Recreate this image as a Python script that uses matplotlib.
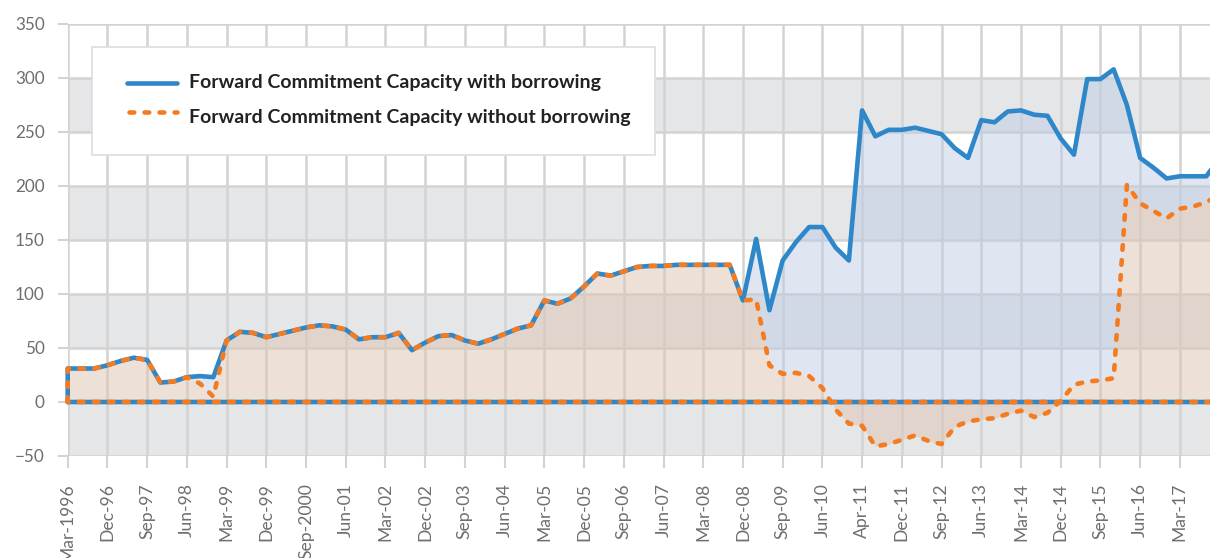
import matplotlib
matplotlib.use("Agg")
import matplotlib.pyplot as plt
import numpy as np
from matplotlib.patches import Rectangle
from matplotlib.lines import Line2D

# Quarterly series, Mar-1996 .. Dec-2017
with_borrowing = [
    31, 31, 31, 34, 38, 41, 39, 18, 19, 23,
    24, 23, 57, 65, 64, 60, 63, 66, 69, 71,
    70, 67, 58, 60, 60, 64, 48, 55, 61, 62,
    57, 54, 58, 63, 68, 71, 94, 91, 96, 107,
    119, 117, 121, 125, 126, 126, 127, 127, 127, 127,
    127, 94, 151, 85, 131, 148, 162, 162, 143, 131,
    270, 246, 252, 252, 254, 251, 248, 235, 226, 261,
    259, 269, 270, 266, 265, 244, 229, 299, 299, 308,
    275, 226, 217, 207, 209, 209, 209, 226,
]
without_borrowing = [
    31, 31, 31, 34, 38, 41, 39, 18, 19, 23,
    17, 5, 57, 65, 64, 60, 63, 66, 69, 71,
    70, 67, 58, 60, 60, 64, 48, 55, 61, 62,
    57, 54, 58, 63, 68, 71, 94, 91, 96, 107,
    119, 117, 121, 125, 126, 126, 127, 127, 127, 127,
    127, 94, 95, 34, 26, 27, 24, 13, -7, -20,
    -22, -41, -39, -35, -31, -36, -39, -23, -18, -16,
    -15, -11, -8, -14, -10, 1, 16, 19, 20, 22,
    201, 184, 177, 170, 179, 181, 185, 192,
]
tick_labels = [
    "Mar-1996", "Dec-96", "Sep-97", "Jun-98", "Mar-99", "Dec-99", "Sep-2000",
    "Jun-01", "Mar-02", "Dec-02", "Sep-03", "Jun-04", "Mar-05", "Dec-05",
    "Sep-06", "Jun-07", "Mar-08", "Dec-08", "Sep-09", "Jun-10", "Apr-11",
    "Dec-11", "Sep-12", "Jun-13", "Mar-14", "Dec-14", "Sep-15", "Jun-16",
    "Mar-17", "Dec-17",
]
series_names = [
    "Forward Commitment Capacity with borrowing",
    "Forward Commitment Capacity without borrowing",
]
y_ticks = [-50, 0, 50, 100, 150, 200, 250, 300, 350]

BLUE = "#2e87c9"
ORANGE = "#f47b20"
GRID = "#d3d3d3"
BAND = "#e5e6e8"
TICK_TXT = "#6e6e6e"
DASH = (1.03, 2.25)

W, H = 1210, 558
fig = plt.figure(figsize=(W / 100, H / 100), dpi=100)
fig.patch.set_facecolor("white")

# plot area (deliberately runs past the right edge of the canvas)
x0_px, y_top_px, y_bot_px = 67.7, 24.0, 456.0
step_px = 13.24
n = len(with_borrowing)
ax = fig.add_axes([x0_px / W, (H - y_bot_px) / H,
                   (n - 1) * step_px / W, (y_bot_px - y_top_px) / H])
ax.set_xlim(0, n - 1)
ax.set_ylim(-50, 350)
for s in ax.spines.values():
    s.set_visible(False)

x = np.arange(n, dtype=float)
blue = np.array(with_borrowing, dtype=float)
orange = np.array(without_borrowing, dtype=float)

# alternating bands
for lo in (-50, 50, 150, 250):
    ax.axhspan(lo, lo + 50, color=BAND, zorder=0, lw=0)

# grid
ax.set_yticks(y_ticks)
ax.set_xticks(np.arange(0, n, 3))
ax.set_xticklabels(tick_labels)
ax.grid(True, color=GRID, lw=1.8, zorder=1)
ax.set_axisbelow(True)
ax.tick_params(axis="y", length=7.5, width=1.5, color=GRID, pad=9,
               labelsize=12.3, labelcolor=TICK_TXT)
ax.tick_params(axis="x", length=8.5, width=1.5, color=GRID, pad=11,
               labelsize=12.6, labelcolor=TICK_TXT, labelrotation=90)
for lab in ax.get_xticklabels() + ax.get_yticklabels():
    lab.set_fontfamily("Lato")

# blue fill only where the orange area does not cover it
lx, ly = [], []
for i in range(n):
    if i > 0 and orange[i - 1] * orange[i] < 0:
        t = orange[i - 1] / (orange[i - 1] - orange[i])
        lx.append(x[i - 1] + t)
        ly.append(0.0)
    lx.append(x[i])
    ly.append(max(orange[i], 0.0))
lx = np.array(lx)
ly = np.array(ly)
uy = np.interp(lx, x, blue)
ax.fill_between(lx, ly, uy, color="#bccbe5", alpha=0.48, lw=0, zorder=2)
ax.fill_between(x, 0, orange, color="#dec5b4", alpha=0.52, lw=0, zorder=2)

# area outlines (baseline included)
px = np.concatenate([[0], x, [x[-1], 0]])
ax.plot(px, np.concatenate([[0], blue, [0, 0]]), color=BLUE, lw=3.3,
        solid_joinstyle="round", solid_capstyle="round", zorder=4, clip_on=False)
ax.plot(px, np.concatenate([[0], orange, [0, 0]]), color=ORANGE, lw=3.3,
        dashes=DASH, dash_capstyle="round", dash_joinstyle="round",
        zorder=5, clip_on=False)

# legend box
def fx(px_):
    return px_ / W

def fy(py_):
    return (H - py_) / H

fig.add_artist(Rectangle((fx(92), fy(155)), fx(655) - fx(92), fy(47) - fy(155),
                         transform=fig.transFigure, facecolor="white",
                         edgecolor="#dddddd", lw=1.2, zorder=10))
fig.add_artist(Line2D([fx(127), fx(177)], [fy(82.5), fy(82.5)],
                      transform=fig.transFigure, color=BLUE, lw=3.3,
                      solid_capstyle="round", zorder=11))
fig.add_artist(Line2D([fx(128.5), fx(177)], [fy(112), fy(112)],
                      transform=fig.transFigure, color=ORANGE, lw=3.3,
                      dashes=DASH, dash_capstyle="round", zorder=11))
fig.text(fx(189), fy(88.3), series_names[0], fontfamily="Lato",
         fontweight="bold", fontsize=14, color="#222222", va="baseline",
         zorder=12)
fig.text(fx(189), fy(123), series_names[1], fontfamily="Lato",
         fontweight="bold", fontsize=14, color="#222222", va="baseline",
         zorder=12)

fig.savefig("out.png", dpi=100, facecolor="white")
